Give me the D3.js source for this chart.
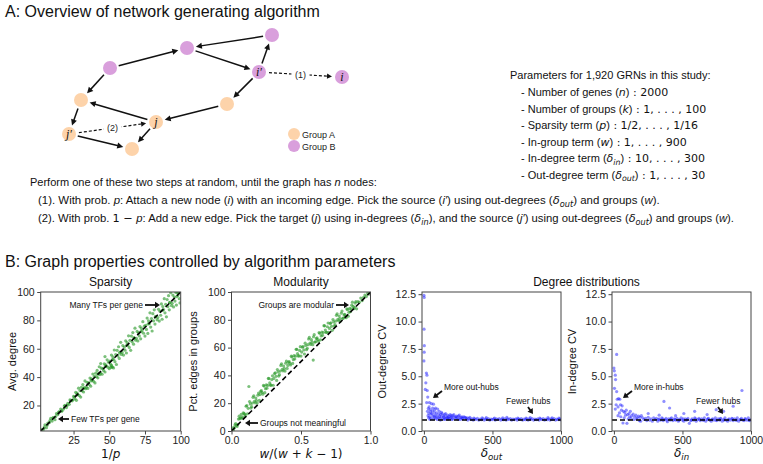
<!DOCTYPE html>
<html><head><meta charset="utf-8">
<script src="https://cdn.jsdelivr.net/npm/d3@7"></script>
<style>body{margin:0;background:#fff} svg{display:block}</style>
</head><body><svg id="c" width="763" height="464"></svg>
<script>
// ---------------- DATA ----------------
const sparsityPoints = [[3,3.2],[4,3.3],[5,6.4],[6,4.3],[7,7.6],[8,7.9],[9,10.9],[10,9.0],[11,11.5],[12,10.0],[13,14.2],[14,13.6],[15,15.5],[16,17.5],[17,16.2],[18,17.5],[19,20.1],[20,18.5],[21,21.5],[22,20.8],[23,23.4],[24,23.3],[25,26.4],
[4.5,4.8],[6.5,6.0],[8.5,9.4],[10.5,11.3],[12.5,12.2],[14.5,15.3],[16.5,16.0],[18.5,19.6],[20.5,20.0],[22.5,23.9],[24.5,24.0],
[25.5,26.0],[26,24.7],[26.5,29.3],[27,23.6],[27.5,28.7],[28,27.8],[28.5,32.2],[29,27.0],[29.5,30.5],[30,25.9],[30.5,32.8],[31,30.3],[31.5,34.7],[32,29.5],[32.5,32.6],[33,37.3],[33.5,31.8],[34,32.9],[34.5,36.3],[35,32.0],[35.5,36.0],[36,34.7],[36.5,39.3],[37,33.6],[37.5,38.7],[38,37.8],[38.5,42.2],[39,37.0],[39.5,40.5],[40,35.9],[40.5,42.8],[41,40.3],[41.5,44.7],[42,39.5],[42.5,42.6],[43,47.3],[43.5,41.8],[44,42.9],[44.5,46.3],[45,42.0],[45.5,46.0],[46,44.7],[46.5,49.3],[47,43.6],[47.5,48.7],[48,47.8],[48.5,52.2],[49,47.0],[49.5,50.5],[50,45.9],
[51,46.8],[52,47.3],[53,46.5],[51.5,48.2],[47,54.5],[44,49.6],
[50.5,51.2],[51,49.0],[51.5,55.6],[52,47.0],[52.5,54.3],[53,52.6],[53.5,59.1],[54,50.9],[54.5,55.9],[55,48.9],[55.5,58.9],[56,54.9],[56.5,61.4],[57,53.2],[57.5,57.7],[58,64.5],[58.5,56.0],[59,57.4],[59.5,62.2],[60,55.5],[60.5,61.2],[61,59.0],[61.5,65.6],[62,57.0],[62.5,64.3],[63,62.6],[63.5,69.1],[64,60.9],[64.5,65.9],[65,58.9],[65.5,68.9],[66,64.9],[66.5,71.4],[67,63.2],[67.5,67.7],[68,74.5],[68.5,66.0],[69,67.4],[69.5,72.2],[70,65.5],[70.5,71.2],[71,69.0],[71.5,75.6],[72,67.0],[72.5,74.3],[73,72.6],[73.5,79.1],[74,70.9],[74.5,75.9],[75,68.9],
[75.5,76.4],[76,73.6],[76.5,81.6],[77,70.8],[77.5,79.7],[78,77.6],[78.5,85.3],[79,75.3],[79.5,81.3],[80,72.5],[80.5,84.7],[81,79.7],[81.5,87.4],[82,77.4],[82.5,82.7],[83,90.9],[83.5,80.4],[84,82.0],[84.5,87.8],[85,79.5],[85.5,86.4],[86,83.6],[86.5,91.6],[87,80.8],[87.5,89.7],[88,87.6],[88.5,95.3],[89,85.3],[89.5,91.3],[90,82.5],[90.5,94.7],[91,89.7],[91.5,97.4],[92,87.4],[92.5,92.7],[93,99.5],[93.5,90.4],[94,92.0],[94.5,97.8],[95,89.5],[95.5,96.4],[96,93.6],[96.5,99.8],[97,90.8],[97.5,99.7],[98,97.6],[98.5,99.2],[99,95.3],[99.5,92.3],
[77.2,77.5],[82.2,82.4],[87.2,87.0],[92.2,92.5],[97.2,96.8],[62.2,62.4],[57.2,57.0],[67.2,67.6],[72.2,72.0],[52.2,52.3],[47.2,47.4],[42.2,42.0],[37.2,37.3],[32.2,32.1],[27.2,27.4]];

const modularityPoints = [[0.01,2.3],[0.02,2.4],[0.03,5.4],[0.04,3.3],[0.05,8.6],[0.06,8.9],[0.07,11.9],[0.08,10.0],[0.09,12.5],[0.10,11.0],[0.11,18.3],[0.12,16.3],[0.125,32],[0.13,21.2],[0.14,16.5],[0.15,20.1],[0.16,25.3],[0.17,20.3],[0.18,21.9],[0.19,25.8],[0.20,22.0],
[0.21,28.5],[0.22,27.7],[0.23,32.8],[0.24,27.6],[0.25,33.2],[0.26,32.8],[0.27,37.7],[0.28,33.0],[0.29,37.0],[0.30,32.9],[0.31,41.3],[0.32,39.3],[0.33,44.2],[0.34,39.5],[0.35,43.1],[0.36,48.3],[0.37,43.3],[0.38,44.9],[0.39,48.8],[0.40,45.0],
[0.41,49.5],[0.42,48.7],[0.43,53.8],[0.44,48.6],[0.45,54.2],[0.46,53.8],[0.47,58.7],[0.48,54.0],[0.49,58.0],[0.50,53.9],[0.51,60.3],[0.52,58.3],[0.53,63.2],[0.54,58.5],[0.55,62.1],[0.56,67.3],[0.57,62.3],[0.58,63.9],[0.588,51],[0.59,67.8],[0.60,64.0],
[0.61,66.5],[0.62,65.7],[0.63,70.8],[0.64,65.6],[0.65,71.2],[0.66,70.8],[0.67,75.7],[0.68,71.0],[0.69,75.0],[0.70,70.9],[0.71,77.3],[0.72,75.3],[0.73,80.2],[0.74,75.5],[0.75,79.1],[0.76,84.3],[0.77,79.3],[0.78,80.9],[0.79,84.8],[0.80,81.0],
[0.81,83.5],[0.82,82.7],[0.83,87.8],[0.84,82.6],[0.85,88.2],[0.86,87.8],[0.87,92.7],[0.88,88.0],[0.89,92.0],[0.90,87.9],[0.91,93.1],[0.92,92.6],[0.93,95.6],[0.94,93.8],[0.95,96.1],[0.96,97.8],[0.97,96.7],[0.98,99.0],[0.99,98.5],
[0.015,1.0],[0.025,4.4],[0.035,3.95],[0.045,4.65],[0.055,10.65],[0.065,9.55],[0.075,9.25],[0.085,13.1],[0.095,12.15],[0.105,17.8],[0.115,12.4],[0.135,19.5],[0.145,17.5],[0.155,24.2],[0.165,21.3],[0.175,23.7],[0.185,20.1],[0.195,27.3],
[0.205,26.2],[0.215,29.0],[0.225,26.5],[0.235,32.3],[0.245,30.4],[0.255,30.8],[0.265,37.8],[0.275,34.6],[0.285,33.0],[0.295,39.7],[0.305,37.8],[0.315,41.8],[0.325,36.4],[0.335,42.5],[0.345,40.5],[0.355,47.2],[0.365,44.3],[0.375,46.7],[0.385,43.1],[0.395,50.3],
[0.405,47.2],[0.415,50.0],[0.425,47.5],[0.435,53.3],[0.445,51.4],[0.455,51.8],[0.465,58.8],[0.475,55.6],[0.485,54.0],[0.495,60.7],[0.505,56.8],[0.515,60.8],[0.525,55.4],[0.535,61.5],[0.545,59.5],[0.555,66.2],[0.565,63.3],[0.575,65.7],[0.585,62.1],[0.595,69.3],
[0.605,64.2],[0.615,67.0],[0.625,64.5],[0.635,70.3],[0.645,68.4],[0.655,68.8],[0.665,75.8],[0.675,72.6],[0.685,71.0],[0.695,77.7],[0.705,73.8],[0.715,77.8],[0.725,72.4],[0.735,78.5],[0.745,76.5],[0.755,83.2],[0.765,80.3],[0.775,82.7],[0.785,79.1],[0.795,86.3],
[0.805,81.2],[0.815,84.0],[0.825,81.5],[0.835,87.3],[0.845,85.4],[0.855,85.8],[0.865,90.5],[0.875,89.6],[0.885,89.0],[0.895,93.1]];

const outDegreePoints = [[0,12.4],[2,12.2],[1,9.3],[3,7.8],[2,7.2],[0,6.4],[18,5.3],[22,5.1],[14,4.4],[10,3.8],[24,3.7],[28,3.1],[20,2.6],[40,2.6],[55,2.5],[70,2.45],[85,2.1],[100,2.0],[32,2.05],[46,1.95],[62,1.85],[36,1.6],[52,1.55],[76,1.7],[92,1.65],[112,1.8],[122,1.5],[133,1.6],[142,1.4],[152,1.5],[162,1.3],[172,1.45],[182,1.35],[192,1.5],[202,1.3],[212,1.4],[222,1.25],[232,1.3],[242,1.2],[252,1.35],[262,1.2],[272,1.25],[282,1.15],[292,1.3],[305,1.2],
[42,1.3],[50,1.15],[65,1.35],[80,1.25],[95,1.3],[105,1.2],[116,1.15],[126,1.3],[136,1.1],[146,1.2],[156,1.1],[166,1.2],[176,1.05],[186,1.15],[196,1.2],[30,1.4],[58,1.6],[88,1.45],[68,1.1],[98,1.05],[120,1.0],[150,1.05],[210,1.1],[250,1.05],[280,1.1],
[26,1.8],[38,2.2],[48,1.75],[64,2.1],[78,1.95],[108,1.55],[128,1.7],[158,1.6],[178,1.25],[198,1.4],[218,1.5],[238,1.35],[258,1.45],[278,1.3],[298,1.25],[34,1.2],[44,1.05],[74,1.4],[84,1.15],[114,1.35],[144,1.3],[174,1.15],[204,1.05],[234,1.15],[264,1.05],
[310,1.1],[320,1.0],[330,1.15],[340,1.05],[350,1.1],[360,1.0],[370,1.12],[380,1.05],[390,1.15],[400,1.0],[410,1.08],[420,1.03],[430,1.12],[440,1.0],[450,1.1],[460,1.05],[470,1.14],[480,1.0],[490,1.08],[500,1.04],[510,1.12],[520,1.0],[530,1.1],[540,1.05],[550,1.13],[560,1.0],[570,1.08],[580,1.03],[590,1.12],[600,1.0],[610,1.1],[620,1.05],[630,1.14],[640,1.0],[650,1.08],[660,1.04],[670,1.12],[680,1.0],[690,1.1],[700,1.05],[710,1.13],[720,1.0],[730,1.08],[740,1.03],[750,1.12],[760,1.0],[770,1.1],[780,1.05],[790,1.14],[800,1.0],[810,1.08],[820,1.04],[830,1.12],[840,1.0],[850,1.1],[860,1.05],[870,1.13],[880,1.0],[890,1.08],[900,1.03],[910,1.12],[920,1.0],[930,1.1],[940,1.05],[950,1.14],[960,1.0],[970,1.08],[980,1.04],[990,1.1],[998,1.02],
[315,1.2],[365,1.18],[425,1.2],[515,1.18],[575,1.2],[685,1.17],[745,1.19],[845,1.18],[935,1.2],[985,1.17],[335,1.25],[455,1.22],[605,1.24],[775,1.23],[905,1.22]];

const inDegreePoints = [[0,5.75],[3,5.5],[10,5.1],[12,4.7],[20,7.0],[4,3.9],[20,3.6],[24,2.9],[34,2.95],[43,2.9],[16,2.4],[48,2.4],[55,1.9],[40,1.65],[10,2.0],[30,2.2],[60,2.3],[70,1.8],[80,1.7],[90,1.9],[100,1.5],[110,1.6],[120,1.8],[130,1.4],[140,1.55],[150,1.3],[160,1.45],[170,1.2],[180,1.35],[190,1.25],[200,1.4],[66,0.73],[95,0.7],[195,0.9],[550,0.7],[30,1.4],[50,1.3],[75,1.2],[85,1.45],[105,1.1],[115,1.3],[125,1.15],[145,1.05],[165,1.1],[185,0.95],[210,1.2],[220,1.05],[230,1.15],[240,0.95],[250,1.25],[260,1.0],[270,1.1],[280,0.9],[290,1.2],[300,1.05],
[365,2.7],[406,2.1],[589,1.8],[746,1.95],[870,2.26],[934,3.7],[800,1.8],[510,1.6],[250,1.6],[450,1.4],[680,1.5],[330,1.45],
[310,1.15],[320,0.9],[330,1.1],[340,1.0],[350,1.2],[360,0.95],[370,1.05],[380,1.15],[390,0.85],[400,1.1],[410,1.0],[420,1.2],[430,0.95],[440,1.1],[450,1.0],[460,1.15],[470,0.9],[480,1.05],[490,1.2],[500,1.0],[510,0.9],[520,1.1],[530,1.0],[540,1.15],[560,0.95],[570,1.1],[580,1.0],[590,1.2],[600,0.9],[610,1.05],[620,1.15],[630,0.95],[640,1.1],[650,1.0],[660,1.2],[670,0.9],[680,1.05],[690,1.15],[700,1.0],[710,0.9],[720,1.1],[730,1.0],[740,1.2],[750,0.95],[760,1.1],[770,1.0],[780,1.15],[790,0.9],[800,1.05],[810,1.2],[820,1.0],[830,0.9],[840,1.1],[850,1.0],[860,1.15],[870,0.95],[880,1.1],[890,1.0],[900,1.2],[910,0.9],[920,1.05],[930,1.15],[940,1.0],[950,0.95],[960,1.1],[970,1.0],[980,1.2],[990,0.95],[998,1.05],
[325,1.05],[355,1.1],[385,1.0],[415,1.1],[445,1.05],[475,1.0],[505,1.1],[535,1.05],[565,1.0],[595,1.1],[625,1.05],[655,1.0],[685,1.1],[715,1.05],[745,1.0],[775,1.1],[805,1.0],[835,1.05],[865,1.1],[895,1.0],[925,1.05],[955,1.1],[985,1.0]];

const sparsityTicks = [25,50,75,100];
const sparsityYTicks = [20,40,60,80,100];
const modularityXTicks = [0,0.5,1];
const modularityYTicks = [0,20,40,60,80,100];
const degreeXTicks = [0,500,1000];
const degreeYTicks = [0,2.5,5,7.5,10,12.5];

const networkNodes = [
  {id:"tr", group:"B", label:""},
  {id:"t",  group:"B", label:""},
  {id:"lt", group:"B", label:""},
  {id:"ip", group:"B", label:"i′"},
  {id:"i",  group:"B", label:"i"},
  {id:"ro", group:"A", label:""},
  {id:"lo", group:"A", label:""},
  {id:"j",  group:"A", label:"j"},
  {id:"jp", group:"A", label:"j′"},
  {id:"b",  group:"A", label:""}
];
const networkEdges = [["tr","t"],["lt","t"],["t","ip"],["ip","tr"],["ip","ro"],["lt","lo"],["ro","j"],["j","lo"],["lo","jp"],["jp","b"],["j","b"]];
const networkNewEdges = [["ip","i","(1)"],["jp","j","(2)"]];
const groups = ["Group A","Group B"];

// ---------------- LAYOUT ----------------
const nodeLayout = {tr:[272,35],t:[187,48],lt:[110,68],ip:[259,72],i:[342,77],ro:[227,104],lo:[81,100],j:[156,122],jp:[69,134],b:[132,149]};
const SANS = "'Liberation Sans', Arial, sans-serif";
const MATH = "'DejaVu Sans', sans-serif";
const groupColor = {A:"#fdd3aa", B:"#d99fdc"};

const svg = d3.select("#c");
svg.append("rect").attr("width",763).attr("height",464).attr("fill","#fff");

function rich(g, x, y, parts, size, anchor) {
  const t = g.append("text").attr("x",x).attr("y",y).attr("font-size",size)
    .attr("text-anchor",anchor||"start").attr("fill","#111");
  let off = 0;
  parts.forEach(p => {
    const s = t.append("tspan").text(p.t).attr("font-family", p.m ? MATH : SANS);
    if (p.i) s.attr("font-style","italic");
    if (p.sub) { s.attr("font-size", size*0.72).attr("dy", size*0.25 - off); off = size*0.25; }
    else if (off) { s.attr("dy", -off); off = 0; }
  });
  return t;
}

// ---------------- PANEL A ----------------
svg.append("text").attr("x",5).attr("y",17).attr("font-family",SANS).attr("font-size",16).attr("fill","#111")
  .text("A: Overview of network generating algorithm");

const gA = svg.append("g");
const R = 7;
function arrow(g, p0, p1, opts) {
  const dx = p1[0]-p0[0], dy = p1[1]-p0[1], L = Math.hypot(dx,dy), ux = dx/L, uy = dy/L;
  const s = [p0[0]+ux*(opts.s0), p0[1]+uy*(opts.s0)];
  const e = [p1[0]-ux*(opts.s1), p1[1]-uy*(opts.s1)];
  const hl = opts.hl, hw = opts.hw;
  const b = [e[0]-ux*hl, e[1]-uy*hl];
  g.append("line").attr("x1",s[0]).attr("y1",s[1]).attr("x2",b[0]+ux*1).attr("y2",b[1]+uy*1)
    .attr("stroke","#111").attr("stroke-width",opts.w).attr("stroke-dasharray",opts.dash||null);
  g.append("path").attr("d",`M${e[0]},${e[1]}L${b[0]-uy*hw},${b[1]+ux*hw}L${b[0]+uy*hw},${b[1]-ux*hw}Z`).attr("fill","#111");
}
networkEdges.forEach(([a,b]) => arrow(gA, nodeLayout[a], nodeLayout[b], {s0:R+2, s1:R+2, hl:6, hw:3, w:1.5}));
networkNewEdges.forEach(([a,b,lab]) => {
  arrow(gA, nodeLayout[a], nodeLayout[b], {s0:R+3, s1:R+3, hl:5, hw:2.6, w:1.2, dash:"3,2"});
  const m = [(nodeLayout[a][0]+nodeLayout[b][0])/2, (nodeLayout[a][1]+nodeLayout[b][1])/2];
  gA.append("rect").attr("x",m[0]-9).attr("y",m[1]-6).attr("width",18).attr("height",11).attr("fill","#fff");
  gA.append("text").attr("x",m[0]).attr("y",m[1]+3).attr("text-anchor","middle").attr("font-family",SANS).attr("font-size",9).attr("fill","#222").text(lab);
});
gA.selectAll("circle.node").data(networkNodes).join("circle").attr("class","node")
  .attr("cx",d=>nodeLayout[d.id][0]).attr("cy",d=>nodeLayout[d.id][1]).attr("r",R)
  .attr("fill",d=>groupColor[d.group]);
gA.selectAll("text.nl").data(networkNodes.filter(d=>d.label)).join("text").attr("class","nl")
  .attr("x",d=>nodeLayout[d.id][0]).attr("y",d=>nodeLayout[d.id][1]+4).attr("text-anchor","middle")
  .attr("font-family","'Liberation Serif', serif").attr("font-style","italic").attr("font-size",12).attr("fill","#111")
  .text(d=>d.label);
groups.forEach((gname,k) => {
  gA.append("circle").attr("cx",294).attr("cy",134+k*12).attr("r",6).attr("fill",groupColor[k?"B":"A"]);
  gA.append("text").attr("x",302).attr("y",137.5+k*12).attr("font-family",SANS).attr("font-size",9).attr("fill","#222").text(gname);
});

// parameters list
const gP = svg.append("g");
gP.append("text").attr("x",510).attr("y",79).attr("font-family",SANS).attr("font-size",11).attr("fill","#111").text("Parameters for 1,920 GRNs in this study:");
const paramLines = [
  [{t:"- Number of genes ("},{t:"n",m:1,i:1},{t:")"},{t:" : 2000",m:1}],
  [{t:"- Number of groups ("},{t:"k",m:1,i:1},{t:")"},{t:" : 1, . . . , 100",m:1}],
  [{t:"- Sparsity term ("},{t:"p",m:1,i:1},{t:")"},{t:" : 1/2, . . . , 1/16",m:1}],
  [{t:"- In-group term ("},{t:"w",m:1,i:1},{t:")"},{t:" : 1, . . . , 900",m:1}],
  [{t:"- In-degree term ("},{t:"δ",m:1,i:1},{t:"in",m:1,i:1,sub:1},{t:")"},{t:" : 10, . . . , 300",m:1}],
  [{t:"- Out-degree term ("},{t:"δ",m:1,i:1},{t:"out",m:1,i:1,sub:1},{t:")"},{t:" : 1, . . . , 30",m:1}]
];
paramLines.forEach((pl,k)=> rich(gP, 521, 96+k*16.5, pl, 11));

// steps text
rich(svg, 30, 186, [{t:"Perform one of these two steps at random, until the graph has "},{t:"n",i:1},{t:" nodes:"}], 11);
function fitText(parts, x0, y, width) {
  const t = rich(svg, 0, 0, parts, 11);
  const w = t.node().getComputedTextLength();
  t.attr("transform", `translate(${x0},${y}) scale(${width/w},1)`);
}
fitText([{t:"(1). With prob. "},{t:"p",i:1},{t:": Attach a new node ("},{t:"i",i:1},{t:") with an incoming edge. Pick the source ("},{t:"i′",i:1},{t:") using out-degrees ("},{t:"δ",m:1,i:1},{t:"out",m:1,i:1,sub:1},{t:") and groups ("},{t:"w",i:1},{t:")."}], 38, 204, 622);
fitText([{t:"(2). With prob. "},{t:"1 − ",m:1},{t:"p",i:1},{t:": Add a new edge. Pick the target ("},{t:"j",i:1},{t:") using in-degrees ("},{t:"δ",m:1,i:1},{t:"in",m:1,i:1,sub:1},{t:"), and the source ("},{t:"j′",i:1},{t:") using out-degrees ("},{t:"δ",m:1,i:1},{t:"out",m:1,i:1,sub:1},{t:") and groups ("},{t:"w",i:1},{t:")."}], 38, 222, 697);

// ---------------- PANEL B ----------------
svg.append("text").attr("x",5).attr("y",267).attr("font-family",SANS).attr("font-size",16).attr("fill","#111")
  .text("B: Graph properties controlled by algorithm parameters");

const pTop = 292, pBottom = 431;
const panels = [
  {x0:40.7, x1:180.7, xd:[2,100], yd:[2,100], xt:sparsityTicks, yt:sparsityYTicks, xf:d3.format("d"), yf:d3.format("d"), pts:sparsityPoints, color:"#2a9a2a", diag:"id", id:"p1"},
  {x0:231.5, x1:370.5, xd:[0,1], yd:[0,100], xt:modularityXTicks, yt:modularityYTicks, xf:d3.format(".1f"), yf:d3.format("d"), pts:modularityPoints, color:"#2a9a2a", diag:"pct", id:"p2"},
  {x0:422, x1:561, xd:[-14,1000], yd:[0,12.7], xt:degreeXTicks, yt:degreeYTicks, xf:d3.format("d"), yf:d3.format(".1f"), pts:outDegreePoints, color:"#1f1fff", hline:1, id:"p3"},
  {x0:612, x1:751, xd:[-14,1000], yd:[0,12.7], xt:degreeXTicks, yt:degreeYTicks, xf:d3.format("d"), yf:d3.format(".1f"), pts:inDegreePoints, color:"#1f1fff", hline:1, id:"p4"}
];
const defs = svg.append("defs");
panels.forEach(P => {
  const x = d3.scaleLinear().domain(P.xd).range([P.x0,P.x1]);
  const y = d3.scaleLinear().domain(P.yd).range([pBottom,pTop]);
  defs.append("clipPath").attr("id","clip"+P.id).append("rect").attr("x",P.x0).attr("y",pTop).attr("width",P.x1-P.x0).attr("height",pBottom-pTop);
  const g = svg.append("g");
  const pg = g.append("g").attr("clip-path",`url(#clip${P.id})`);
  pg.selectAll("circle").data(P.pts).join("circle")
    .attr("cx",d=>x(d[0])).attr("cy",d=>y(d[1])).attr("r",1.6)
    .attr("fill",P.color).attr("fill-opacity",P.hline?0.5:0.62);
  const dash = l => l.attr("stroke","#000").attr("stroke-width",1.6).attr("stroke-dasharray","5,3");
  if (P.diag === "pct") pg.append("line").attr("x1",x(0)).attr("y1",y(0)).attr("x2",x(1)).attr("y2",y(100)).call(dash);
  if (P.diag === "id") pg.append("line").attr("x1",x(P.xd[0])).attr("y1",y(P.xd[0])).attr("x2",x(100)).attr("y2",y(100)).call(dash);
  if (P.hline) pg.append("line").attr("x1",P.x0).attr("x2",P.x1).attr("y1",y(P.hline)).attr("y2",y(P.hline)).call(dash);
  const ax = g.append("g").attr("transform",`translate(0,${pBottom})`)
    .call(d3.axisBottom(x).tickValues(P.xt).tickFormat(P.xf).tickSize(3.5).tickPadding(2.5));
  const ay = g.append("g").attr("transform",`translate(${P.x0},0)`)
    .call(d3.axisLeft(y).tickValues(P.yt).tickFormat(P.yf).tickSize(3.5).tickPadding(2.5));
  [ax,ay].forEach(a => {
    a.select(".domain").remove();
    a.selectAll("line").attr("stroke","#333").attr("stroke-width",0.9);
    a.selectAll("text").attr("font-family",SANS).attr("font-size",10.5).attr("fill","#222");
  });
  g.append("rect").attr("x",P.x0).attr("y",pTop).attr("width",P.x1-P.x0).attr("height",pBottom-pTop)
    .attr("fill","none").attr("stroke","#444").attr("stroke-width",1);
});

// titles
[["Sparsity",110.7],["Modularity",301],["Degree distributions",586.5]].forEach(([t,cx]) =>
  svg.append("text").attr("x",cx).attr("y",286).attr("text-anchor","middle").attr("font-family",SANS).attr("font-size",12).attr("fill","#111").text(t));
// y labels
[["Avg. degree",16],["Pct. edges in groups",197],["Out-degree CV",386],["In-degree CV",576]].forEach(([t,cx]) =>
  svg.append("text").attr("transform",`translate(${cx},361.5) rotate(-90)`).attr("text-anchor","middle").attr("font-family",SANS).attr("font-size",11).attr("fill","#111").text(t));
// x labels
rich(svg, 110.7, 458, [{t:"1/",m:1},{t:"p",m:1,i:1}], 12, "middle");
rich(svg, 301, 458, [{t:"w",m:1,i:1},{t:"/(",m:1},{t:"w",m:1,i:1},{t:" + ",m:1},{t:"k",m:1,i:1},{t:" − 1)",m:1}], 12, "middle");
rich(svg, 491.5, 457, [{t:"δ",m:1,i:1},{t:"out",m:1,i:1,sub:1}], 12, "middle");
rich(svg, 681.5, 457, [{t:"δ",m:1,i:1},{t:"in",m:1,i:1,sub:1}], 12, "middle");

// annotations
function annot(text, tx, ty, anchor, a0, a1) {
  svg.append("text").attr("x",tx).attr("y",ty).attr("text-anchor",anchor).attr("font-family",SANS).attr("font-size",8.5).attr("fill","#111").text(text);
  arrow(svg, a0, a1, {s0:0, s1:0, hl:5, hw:3.2, w:1.8});
}
annot("Many TFs per gene", 143, 308, "end", [145,305],[160,305]);
annot("Few TFs per gene", 71, 422, "start", [69,419],[58,419]);
annot("Groups are modular", 334, 308, "end", [336,305],[349,305]);
annot("Groups not meaningful", 260, 426, "start", [258,423],[245,423]);
annot("More out-hubs", 444, 390, "start", [442,391],[433,398]);
annot("Fewer hubs", 506, 404, "start", [528,407],[533,414]);
annot("More in-hubs", 634, 390, "start", [632,391],[623,398]);
annot("Fewer hubs", 696, 404, "start", [718,407],[723,414]);
</script></body></html>
